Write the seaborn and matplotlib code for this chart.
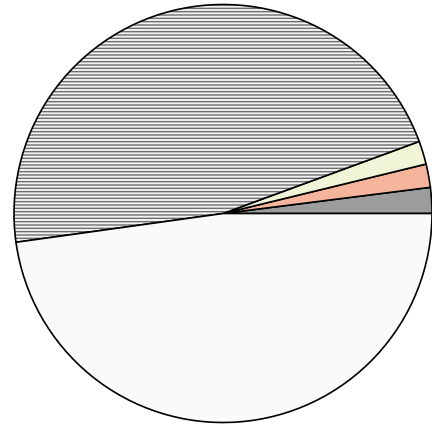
import matplotlib
matplotlib.use("Agg")
import matplotlib.pyplot as plt
import matplotlib.colors as mcolors
import seaborn as sns

# slice shares (percent), counter-clockwise from 3 o'clock
labels = ["dark", "salmon", "pale", "hatched", "blank"]
shares = [2.0, 1.8, 1.8, 46.6, 47.8]
colors = ["#9c9c9c", "#f5b49c", "#f1f4d6", "#f2f2f2", "#fafafa"]

sns.set_theme(style="white")

fig = plt.figure(figsize=(4.32, 4.25), dpi=100)
ax = fig.add_axes([0, 0, 1, 1])

wedges, _ = ax.pie(shares, colors=colors, startangle=0, counterclock=True,
                   wedgeprops=dict(edgecolor="black", linewidth=1.2))

# horizontal ruling on the big slice
big = wedges[labels.index("hatched")]
big.set_hatch("-----")
if hasattr(big, "set_hatchcolor"):
    big.set_hatchcolor("#6e6e6e")
else:
    big._hatch_color = mcolors.to_rgba("#6e6e6e")
plt.rcParams["hatch.linewidth"] = 0.9

# circle of radius 1 sits at pixel (223, 213.5), radius ~209 px
ax.set_aspect("auto")
ax.set_xlim(-223 / 209, (432 - 223) / 209)
ax.set_ylim(-(425 - 213.5) / 209, 213.5 / 209)
ax.axis("off")

fig.savefig("out.png", dpi=100, facecolor="white")
